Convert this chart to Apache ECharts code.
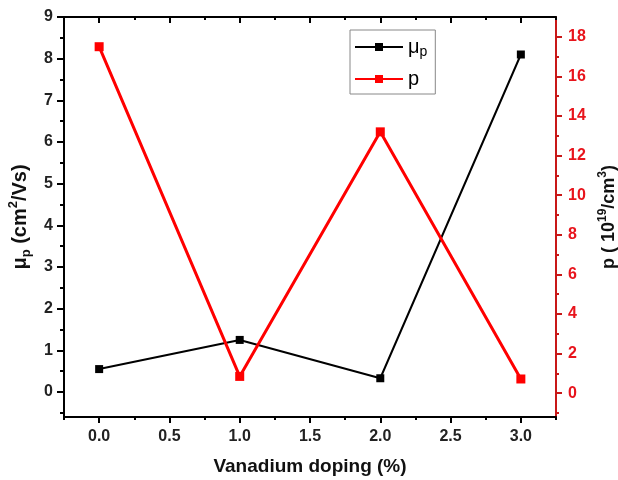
<!DOCTYPE html>
<html>
<head><meta charset="utf-8"></head>
<body style="margin:0;background:#fff">
<div id="chart" style="width: 618px; height: 480px;"></div>
<script src="https://cdn.jsdelivr.net/npm/echarts@6/dist/echarts.min.js"></script>
<script>
const chart = echarts.init(document.getElementById('chart'));

// 数据
const doping = [0, 1, 2, 3];
const mobility = [0.55, 1.25, 0.33, 8.1];
const carrier = [17.5, 0.85, 13.2, 0.72];

// 刻度
const xTicks = [0, 0.5, 1, 1.5, 2, 2.5, 3];
const xMinor = [-0.25, 0.25, 0.75, 1.25, 1.75, 2.25, 2.75, 3.25];
const leftTicks = [0, 1, 2, 3, 4, 5, 6, 7, 8, 9];
const leftMinor = [-0.5, 0.5, 1.5, 2.5, 3.5, 4.5, 5.5, 6.5, 7.5, 8.5];
const rightTicks = [0, 2, 4, 6, 8, 10, 12, 14, 16, 18];
const rightMinor = [-1, 1, 3, 5, 7, 9, 11, 13, 15, 17];

const FONT = 'Liberation Sans';
const RED = '#e8141c';
const RED_AXIS = '#c81818';

const xRange = { min: -0.25, max: 3.25 };
const leftRange = { min: -0.6, max: 9 };
const rightRange = { min: -1.2, max: 19 };

const labelFont = { fontFamily: FONT, fontWeight: 'bold', fontSize: 16 };
const noLine = { show: false, onZero: false };

const option = {
  animation: false,
  grid: { left: 64, right: 62, top: 17, bottom: 63, outerBoundsMode: 'none' },
  legend: {
    left: 350, top: 30,
    orient: 'vertical',
    borderColor: '#888', borderWidth: 1,
    padding: [5, 8, 5, 4],
    itemWidth: 48, itemHeight: 10, itemGap: 10,
    data: ['mu', 'p'],
    formatter: function (name) {
      return name === 'mu' ? '{a|μ}{s|p}' : '{a|p}';
    },
    textStyle: {
      rich: {
        a: { fontFamily: FONT, fontSize: 20, color: '#000', lineHeight: 24 },
        s: { fontFamily: FONT, fontSize: 14, color: '#000', verticalAlign: 'bottom', lineHeight: 16, padding: [10, 0, 0, 0] }
      }
    }
  },
  xAxis: [
    {
      type: 'value', position: 'bottom', ...xRange,
      name: 'Vanadium doping (%)', nameLocation: 'middle', nameGap: 40,
      nameTextStyle: { fontFamily: FONT, fontWeight: 'bold', fontSize: 19, color: '#111' },
      axisLine: { onZero: false, lineStyle: { color: '#000', width: 2 } },
      axisTick: { customValues: xTicks, length: 6, lineStyle: { color: '#000', width: 2 } },
      axisLabel: { customValues: xTicks, margin: 12, color: '#222', ...labelFont,
        formatter: v => v.toFixed(1) },
      splitLine: { show: false }
    },
    {
      type: 'value', position: 'bottom', ...xRange,
      axisLine: noLine,
      axisTick: { customValues: xMinor, length: 3, lineStyle: { color: '#000', width: 2 } },
      axisLabel: { show: false }, splitLine: { show: false }
    },
    {
      type: 'value', position: 'top', ...xRange,
      axisLine: { onZero: false, lineStyle: { color: '#000', width: 2 } },
      axisTick: { customValues: xTicks, inside: true, length: 6, lineStyle: { color: '#000', width: 2 } },
      axisLabel: { show: false }, splitLine: { show: false }
    },
    {
      type: 'value', position: 'top', ...xRange,
      axisLine: noLine,
      axisTick: { customValues: xMinor, inside: true, length: 3, lineStyle: { color: '#000', width: 2 } },
      axisLabel: { show: false }, splitLine: { show: false }
    }
  ],
  yAxis: [
    {
      type: 'value', position: 'left', ...leftRange,
      name: '{b|μ}{sub|p}{b| (cm}{sup|2}{b|/Vs)}', nameLocation: 'middle', nameGap: 27,
      nameTextStyle: {
        rich: {
          b: { fontFamily: FONT, fontWeight: 'bold', fontSize: 20, color: '#111', lineHeight: 26 },
          sub: { fontFamily: FONT, fontWeight: 'bold', fontSize: 13, color: '#111', verticalAlign: 'bottom', lineHeight: 15, padding: [11, 0, 0, 0] },
          sup: { fontFamily: FONT, fontWeight: 'bold', fontSize: 13, color: '#111', verticalAlign: 'top', lineHeight: 15, padding: [0, 0, 11, 0] }
        }
      },
      axisLine: { show: true, onZero: false, lineStyle: { color: '#000', width: 2 } },
      axisTick: { show: true, customValues: leftTicks, length: 7, lineStyle: { color: '#000', width: 2 } },
      axisLabel: { customValues: leftTicks, margin: 11, color: '#222', ...labelFont },
      splitLine: { show: false }
    },
    {
      type: 'value', position: 'right', ...rightRange,
      name: '{b|p ( 10}{sup|19}{b|/cm}{sup|3}{b|)}', nameLocation: 'middle', nameGap: 36, nameRotate: 90,
      nameTextStyle: {
        rich: {
          b: { fontFamily: FONT, fontWeight: 'bold', fontSize: 18, color: '#111', lineHeight: 24 },
          sup: { fontFamily: FONT, fontWeight: 'bold', fontSize: 12, color: '#111', verticalAlign: 'top', lineHeight: 14, padding: [0, 0, 10, 0] }
        }
      },
      axisLine: { show: true, onZero: false, lineStyle: { color: RED_AXIS, width: 2 } },
      axisTick: { show: true, customValues: rightTicks, length: 6, lineStyle: { color: RED_AXIS, width: 2 } },
      axisLabel: { customValues: rightTicks, margin: 12, color: RED, ...labelFont },
      splitLine: { show: false }
    },
    {
      type: 'value', position: 'left', ...leftRange,
      axisLine: noLine,
      axisTick: { show: true, customValues: leftMinor, length: 4, lineStyle: { color: '#000', width: 2 } },
      axisLabel: { show: false }, splitLine: { show: false }
    },
    {
      type: 'value', position: 'right', ...rightRange,
      axisLine: noLine,
      axisTick: { show: true, customValues: rightMinor, length: 3, lineStyle: { color: RED_AXIS, width: 2 } },
      axisLabel: { show: false }, splitLine: { show: false }
    }
  ],
  series: [
    {
      name: 'mu', type: 'line', xAxisIndex: 0, yAxisIndex: 0,
      data: doping.map((x, i) => [x, mobility[i]]),
      symbol: 'rect', symbolSize: 8,
      lineStyle: { color: '#000', width: 2 },
      itemStyle: { color: '#000' }
    },
    {
      name: 'p', type: 'line', xAxisIndex: 0, yAxisIndex: 1,
      data: doping.map((x, i) => [x, carrier[i]]),
      symbol: 'rect', symbolSize: 9,
      lineStyle: { color: '#ff0000', width: 3 },
      itemStyle: { color: '#ff0000' }
    }
  ]
};

chart.setOption(option);
</script>
</body>
</html>
